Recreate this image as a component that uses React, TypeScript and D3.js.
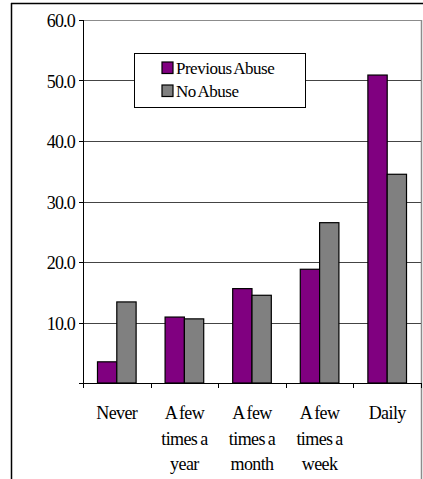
import React from "react";
import * as d3 from "d3";

const categories = ["Never", "A few times a year", "A few times a month", "A few times a week", "Daily"];
const categoryLines = [["Never"], ["A few", "times a", "year"], ["A few", "times a", "month"], ["A few", "times a", "week"], ["Daily"]];
const seriesNames = ["Previous Abuse", "No Abuse"];
const previousAbuse = [3.5, 10.9, 15.6, 18.8, 50.9];
const noAbuse = [13.4, 10.6, 14.5, 26.5, 34.5];
const yTicks = [0, 10, 20, 30, 40, 50, 60];
const colors = ["#800080", "#808080"];

const W = 423;
const H = 479;
const plot = { left: 83, right: 421, top: 20, bottom: 383 };
const font = "Liberation Serif, Times New Roman, Liberation Sans, sans-serif";

export default function App() {
  const x0 = d3.scaleBand<string>().domain(categories).range([plot.left, plot.right]).padding(0);
  const x1 = d3.scaleBand<string>().domain(seriesNames).range([0, x0.bandwidth()]).paddingInner(0).paddingOuter(0.75);
  const y = d3.scaleLinear().domain([0, 60]).range([plot.bottom, plot.top]);
  const series = [previousAbuse, noAbuse];
  const tickEdges = [...categories.map((c) => x0(c) as number), plot.right];

  return (
    <svg width={W} height={H} style={{ position: "absolute", left: 0, top: 0, background: "#fff", fontFamily: font }}>
      {/* chart frame */}
      <line x1={11} x2={W} y1={3.5} y2={3.5} stroke="#000" strokeWidth={1.5} />
      <line x1={11.5} x2={11.5} y1={3} y2={H} stroke="#000" strokeWidth={1.5} />
      <line x1={plot.left} x2={plot.right} y1={plot.top + 0.5} y2={plot.top + 0.5} stroke="#8c8c8c" strokeWidth={1} />
      <line x1={plot.right + 0.5} x2={plot.right + 0.5} y1={plot.top} y2={H} stroke="#8c8c8c" strokeWidth={1.5} />

      {/* gridlines */}
      {yTicks.filter((t) => t > 0 && t < 60).map((t) => (
        <line key={t} x1={plot.left} x2={plot.right} y1={Math.round(y(t)) + 0.5} y2={Math.round(y(t)) + 0.5} stroke="#444" strokeWidth={1} />
      ))}

      {/* bars */}
      {categories.map((c, i) => (
        <g key={c} transform={`translate(${x0(c)},0)`}>
          {seriesNames.map((s, j) => {
            const v = series[j][i];
            return (
              <rect
                key={s}
                x={(x1(s) as number)}
                y={y(v)}
                width={x1.bandwidth()}
                height={plot.bottom - y(v)}
                fill={colors[j]}
                stroke="#000"
                strokeWidth={1.2}
              />
            );
          })}
        </g>
      ))}

      {/* y axis */}
      <line x1={plot.left + 0.5} x2={plot.left + 0.5} y1={plot.top} y2={plot.bottom + 5} stroke="#000" strokeWidth={1} />
      {yTicks.map((t) => (
        <g key={t}>
          <line x1={plot.left - 4} x2={plot.left} y1={Math.round(y(t)) + 0.5} y2={Math.round(y(t)) + 0.5} stroke="#000" strokeWidth={1} />
          {t > 0 && (
            <text x={75} y={y(t) + 7} textAnchor="end" style={{ fontFamily: font, fontSize: 18, letterSpacing: -0.8 }} fill="#000">
              {d3.format(".1f")(t)}
            </text>
          )}
        </g>
      ))}

      {/* x axis */}
      <line x1={plot.left - 4} x2={plot.right} y1={plot.bottom + 0.5} y2={plot.bottom + 0.5} stroke="#000" strokeWidth={1} />
      {tickEdges.map((xv, i) => (
        <line key={i} x1={Math.round(xv) + 0.5} x2={Math.round(xv) + 0.5} y1={plot.bottom} y2={plot.bottom + 5} stroke="#000" strokeWidth={1} />
      ))}
      {categories.map((c, i) => (
        <text key={c} textAnchor="middle" style={{ fontFamily: font, fontSize: 18, letterSpacing: -0.6, wordSpacing: -1 }} fill="#000">
          {categoryLines[i].map((line, k) => (
            <tspan key={k} x={(x0(c) as number) + x0.bandwidth() / 2} y={419 + k * 25.5}>
              {line}
            </tspan>
          ))}
        </text>
      ))}

      {/* legend */}
      <rect x={134.5} y={53.5} width={171} height={54} fill="#fff" stroke="#000" strokeWidth={1} />
      {seriesNames.map((s, j) => (
        <g key={s}>
          <rect x={162} y={62 + j * 23} width={11} height={11.5} fill={colors[j]} stroke="#000" strokeWidth={1.2} />
          <text x={176} y={74 + j * 23} style={{ fontFamily: font, fontSize: 17, letterSpacing: -0.5, wordSpacing: -1 }} fill="#000">
            {s}
          </text>
        </g>
      ))}
    </svg>
  );
}
